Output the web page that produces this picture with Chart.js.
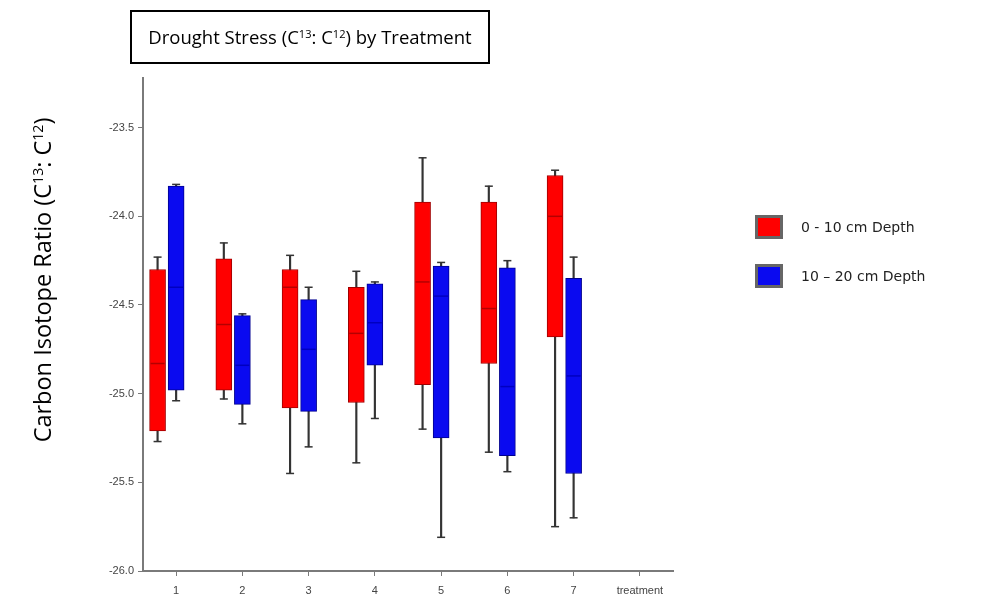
<!DOCTYPE html>
<html>
<head>
<meta charset="utf-8">
<script src="https://cdn.jsdelivr.net/npm/chart.js@4.4.1/dist/chart.umd.min.js"></script>
<style>
  html, body { margin: 0; padding: 0; background: #fff; }
  #wrap { position: relative; width: 990px; height: 601px; }
  #c { position: absolute; left: 0; top: 0; }
  #title {
    position: absolute; left: 130px; top: 10px; width: 356px; height: 50px;
    border: 2px solid #000; font-family: "Open Sans", sans-serif; font-size: 18.5px;
    line-height: 50px; text-align: center; color: #000; white-space: nowrap;
  }
  sup { font-size: 0.6em; vertical-align: 0; position: relative; top: -0.55em; }
  #ytitle {
    position: absolute; left: 42px; top: 280px; width: 420px; height: 34px;
    margin-left: -210px; margin-top: -17px; transform: rotate(-90deg);
    font-family: "Open Sans", sans-serif; font-size: 23.5px; line-height: 34px;
    text-align: center; color: #000; white-space: nowrap;
  }
  #legend { position: absolute; left: 755px; top: 214px; font-family: "DejaVu Sans", sans-serif; font-size: 14px; color: #222; }
  .item { height: 25px; margin-bottom: 24px; display: flex; align-items: center; }
  .sw { width: 22px; height: 18px; border: 3px solid #666; margin-right: 18px; }
</style>
</head>
<body>
<div id="wrap">
  <canvas id="c" width="990" height="601"></canvas>
  <div id="title">Drought Stress (C<sup>13</sup>: C<sup>12</sup>) by Treatment</div>
  <div id="ytitle">Carbon Isotope Ratio (C<sup>13</sup>: C<sup>12</sup>)</div>
  <div id="legend"></div>
</div>
<script>
// data
const treatments = [1, 2, 3, 4, 5, 6, 7];
const xTickLabels = ['1', '2', '3', '4', '5', '6', '7', 'treatment'];
const yTicks = [-26.0, -25.5, -25.0, -24.5, -24.0, -23.5];
const seriesNames = ['0 - 10 cm Depth', '10 \u2013 20 cm Depth'];

// 0 - 10 cm (red)
const shallowMax = [-24.23, -24.15, -24.22, -24.31, -23.67, -23.83, -23.74];
const shallowQ3  = [-24.30, -24.24, -24.30, -24.40, -23.92, -23.92, -23.77];
const shallowMed = [-24.83, -24.61, -24.40, -24.66, -24.37, -24.52, -24.00];
const shallowQ1  = [-25.21, -24.98, -25.08, -25.05, -24.95, -24.83, -24.68];
const shallowMin = [-25.27, -25.03, -25.45, -25.39, -25.20, -25.33, -25.75];

// 10 - 20 cm (blue)
const deepMax = [-23.82, -24.55, -24.40, -24.37, -24.26, -24.25, -24.23];
const deepQ3  = [-23.83, -24.56, -24.47, -24.38, -24.28, -24.29, -24.35];
const deepMed = [-24.40, -24.84, -24.75, -24.60, -24.45, -24.96, -24.90];
const deepQ1  = [-24.98, -25.06, -25.10, -24.84, -25.25, -25.35, -25.45];
const deepMin = [-25.04, -25.17, -25.30, -25.14, -25.81, -25.44, -25.70];

const series = [
  { name: seriesNames[0], off: -0.28, fill: '#ff0000', edge: '#a00000', med: '#b40000',
    min: shallowMin, q1: shallowQ1, med_: shallowMed, q3: shallowQ3, max: shallowMax },
  { name: seriesNames[1], off: 0, fill: '#0a0af0', edge: '#000090', med: '#0000c0',
    min: deepMin, q1: deepQ1, med_: deepMed, q3: deepQ3, max: deepMax }
];

const datasets = [];
series.forEach(s => {
  const xs = treatments.map(t => t + s.off);
  // whisker stem
  datasets.push({ type: 'bar', order: 3, grouped: false, barThickness: 1.5,
    backgroundColor: '#333', data: xs.map((x, i) => ({ x, y: [s.min[i], s.max[i]] })) });
  // box
  datasets.push({ type: 'bar', order: 2, grouped: false, barThickness: 16, label: s.name,
    backgroundColor: s.fill, borderColor: s.edge, borderWidth: 1, borderSkipped: false,
    data: xs.map((x, i) => ({ x, y: [s.q1[i], s.q3[i]] })) });
  // whisker caps
  datasets.push({ type: 'line', order: 1, showLine: false, pointStyle: 'line',
    pointRadius: 4, pointBorderWidth: 1.5, pointBorderColor: '#333',
    data: xs.flatMap((x, i) => [{ x, y: s.max[i] }, { x, y: s.min[i] }]) });
  // median
  datasets.push({ type: 'line', order: 0, showLine: false, pointStyle: 'line',
    pointRadius: 7, pointBorderWidth: 1.5, pointBorderColor: s.med,
    data: xs.map((x, i) => ({ x, y: s.med_[i] })) });
});

// legend
const lg = document.getElementById('legend');
series.forEach(s => {
  const d = document.createElement('div');
  d.className = 'item';
  d.innerHTML = '<span class="sw" style="background:' + s.fill + '"></span><span></span>';
  d.lastChild.textContent = s.name;
  lg.appendChild(d);
});

const axisCol = '#7a7a7a';
const tickFont = { family: 'Liberation Sans', size: 11 };

new Chart(document.getElementById('c'), {
  type: 'bar',
  data: { datasets },
  options: {
    responsive: false, animation: false,
    layout: { padding: { left: 90, right: 317, top: 78, bottom: 0 } },
    plugins: { legend: { display: false }, tooltip: { enabled: false } },
    scales: {
      x: {
        type: 'linear', min: 0.5, max: 8.5, offset: false,
        afterBuildTicks: a => { a.ticks = xTickLabels.map((_, i) => ({ value: i + 1 })); },
        afterFit: a => { a.height = 30; },
        ticks: { font: tickFont, color: '#444', padding: 8, maxRotation: 0,
                 callback: v => xTickLabels[v - 1] },
        grid: { offset: false, drawOnChartArea: false, drawTicks: true, tickLength: 5, color: axisCol },
        border: { color: axisCol, width: 2 }
      },
      y: {
        min: -26.0, max: -23.22,
        afterBuildTicks: a => { a.ticks = yTicks.map(v => ({ value: v })); },
        afterFit: a => { a.width = 53; },
        ticks: { font: tickFont, color: '#444', padding: 4, callback: v => v.toFixed(1) },
        grid: { drawOnChartArea: false, drawTicks: true, tickLength: 5, color: axisCol },
        border: { color: axisCol, width: 2 }
      }
    }
  }
});
</script>
</body>
</html>
